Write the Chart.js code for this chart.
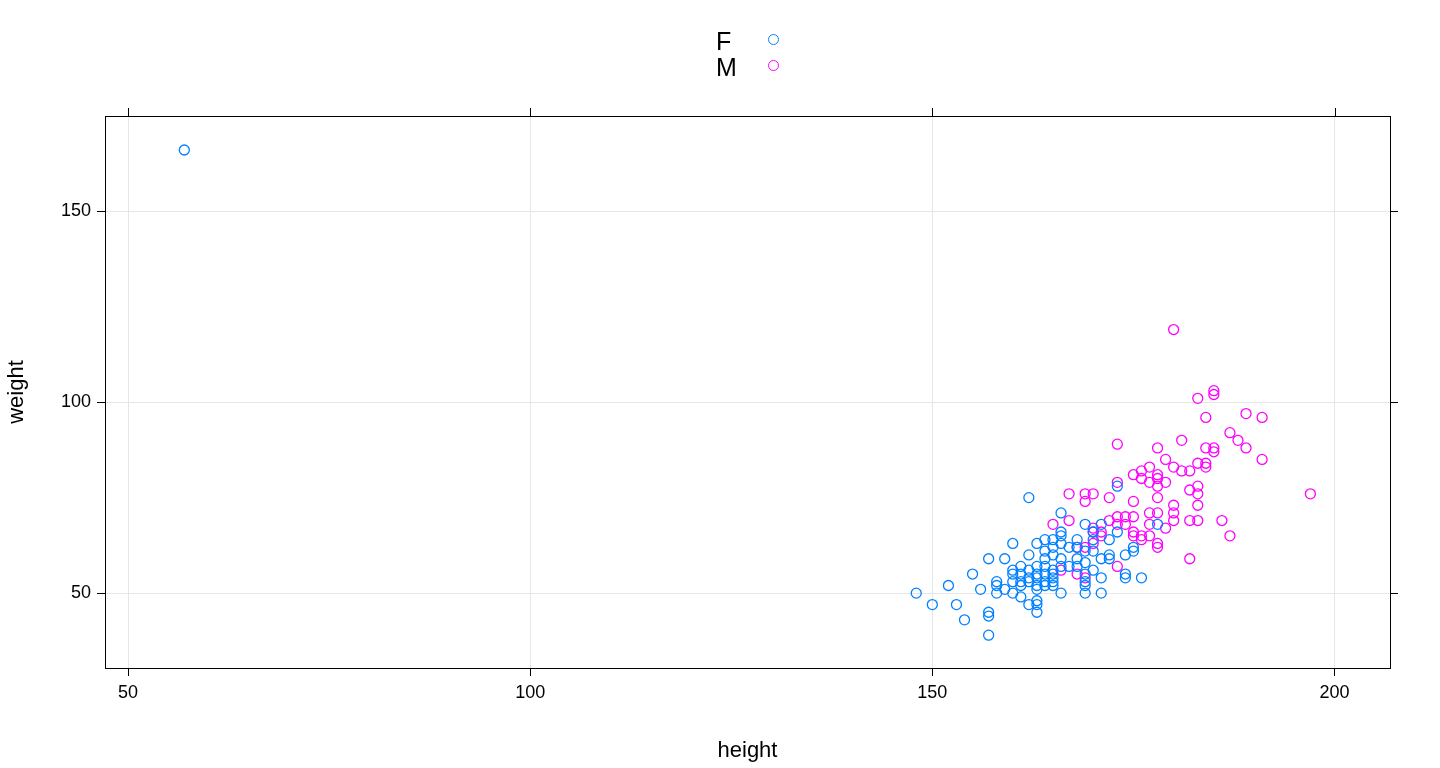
<!DOCTYPE html>
<html><head><meta charset="utf-8">
<script src="https://cdn.jsdelivr.net/npm/chart.js@4"></script>
<style>
body{margin:0;background:#fff;font-family:"Liberation Sans",Arial,sans-serif}
#wrap{position:relative;width:1440px;height:768px}
.leg{position:absolute;font-size:25px;color:#000;line-height:26px}
.sym{position:absolute;width:9px;height:9px;border-radius:50%;border:1.3px solid}
</style></head><body>
<div id="wrap"><canvas id="c" width="1440" height="768"></canvas>
<div class="leg" style="left:716px;top:28px">F</div>
<div class="leg" style="left:716px;top:54px">M</div>
<div class="sym" style="left:768px;top:34px;border-color:#0080ff"></div>
<div class="sym" style="left:768px;top:60px;border-color:#ff00ff"></div>
</div>
<script>
const xTicks=[50,100,150,200];
const yTicks=[50,100,150];
const femaleHeight=[57,148,150,152,153,154,155,156,157,157,157,157,158,158,158,159,159,160,160,160,160,160,161,161,161,161,162,162,162,162,162,162,163,163,163,163,163,163,163,163,164,164,164,164,164,164,165,165,165,165,165,165,165,166,166,166,166,166,166,166,167,167,168,168,168,168,169,169,169,169,169,169,169,170,170,170,170,171,171,171,171,172,172,172,173,173,174,174,174,175,175,176,178,164,161,163,165];
const femaleWeight=[166,50,47,52,47,43,55,51,59,45,44,39,53,52,50,59,51,63,56,55,53,50,57,55,52,49,75,60,56,54,53,47,63,57,54,52,51,48,47,45,64,61,59,55,53,52,64,62,60,56,55,54,53,71,66,65,63,59,57,50,62,57,64,62,59,57,68,61,58,55,53,52,50,66,64,61,56,68,59,54,50,64,60,59,78,66,60,55,54,62,61,54,68,57,53,55,52];
const maleHeight=[165,166,167,167,168,168,169,169,169,169,170,170,170,170,171,171,172,172,173,173,173,173,173,174,174,175,175,175,175,175,176,176,176,176,177,177,177,177,177,178,178,178,178,178,178,178,178,179,179,179,180,180,180,180,180,181,181,182,182,182,182,183,183,183,183,183,183,184,184,184,184,185,185,185,185,186,187,187,188,189,189,191,191,197];
const maleWeight=[68,56,76,69,62,55,76,74,54,62,76,67,66,63,65,66,75,69,89,79,70,68,57,70,68,81,74,70,66,65,82,80,64,65,83,79,71,68,65,88,81,80,78,75,71,63,62,85,79,67,83,73,71,69,119,90,82,82,77,69,59,101,84,78,76,73,69,96,88,84,83,103,102,88,87,69,92,65,90,97,88,96,85,76];
const pts=(a,b)=>a.map((v,i)=>({x:v,y:b[i]}));
const font={family:'"Liberation Sans",Arial,sans-serif',size:18};
const edgeTicks={id:'edge',afterDraw(ch){
  const c=ch.ctx,a=ch.chartArea,x=ch.scales.x,y=ch.scales.y;
  c.save();c.strokeStyle='#000';c.lineWidth=1;
  c.strokeRect(a.left+0.5,a.top+0.5,a.right-a.left,a.bottom-a.top);
  c.beginPath();
  xTicks.forEach(t=>{const p=Math.round(x.getPixelForValue(t))+0.5;c.moveTo(p,a.top);c.lineTo(p,a.top-8);});
  yTicks.forEach(t=>{const p=Math.round(y.getPixelForValue(t))+0.5;c.moveTo(a.right,p);c.lineTo(a.right+8,p);});
  c.stroke();c.restore();}};
new Chart(document.getElementById('c'),{type:'scatter',
 data:{datasets:[
  {label:'F',data:pts(femaleHeight,femaleWeight),borderColor:'#0080ff',backgroundColor:'rgba(0,0,0,0)',pointRadius:5,borderWidth:1.3},
  {label:'M',data:pts(maleHeight,maleWeight),borderColor:'#ff00ff',backgroundColor:'rgba(0,0,0,0)',pointRadius:5,borderWidth:1.3}]},
 options:{responsive:false,animation:false,events:[],
  layout:{padding:{top:116,right:50,left:0,bottom:0}},
  plugins:{legend:{display:false},tooltip:{enabled:false}},
  scales:{
   x:{min:47.14,max:206.9,afterBuildTicks:s=>{s.ticks=xTicks.map(v=>({value:v}));},
      afterFit:s=>{s.height=100;},
      grid:{color:'#e6e6e6',tickColor:'#000',tickLength:8},border:{display:false},
      ticks:{font,color:'#000',padding:6,maxRotation:0},
      title:{display:true,text:'height',font:{...font,size:22},color:'#000',padding:{top:10}}},
   y:{min:30.4,max:174.9,afterBuildTicks:s=>{s.ticks=yTicks.map(v=>({value:v}));},
      afterFit:s=>{s.width=105;},
      grid:{color:'#e6e6e6',tickColor:'#000',tickLength:8},border:{display:false},
      ticks:{font,color:'#000',padding:6},
      title:{display:true,text:'weight',font:{...font,size:22},color:'#000',padding:{bottom:20}}}}},
 plugins:[edgeTicks]});
</script></body></html>
